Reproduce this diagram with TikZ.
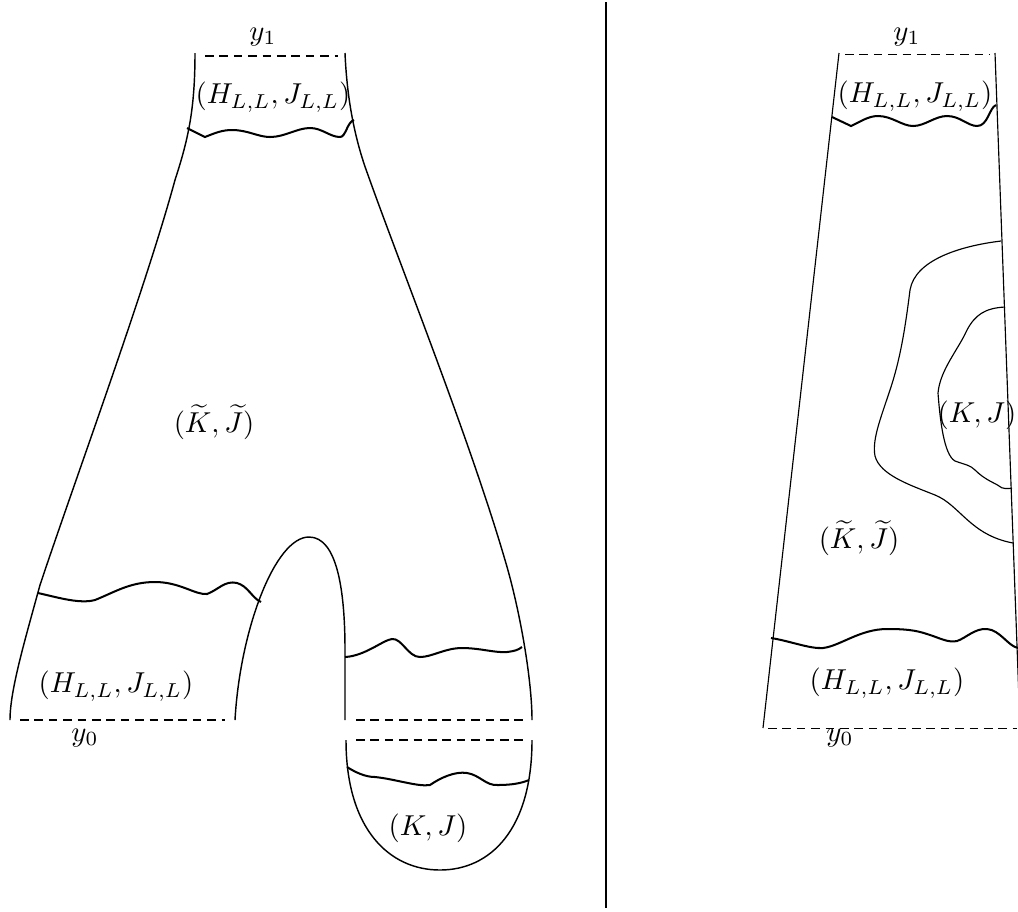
\documentclass[tikz,border=0pt]{standalone}
\usepackage{amssymb}
\usepackage{amsmath}

\begin{document}
\begin{tikzpicture}[x=0.0122cm,y=-0.0122cm,
        rim/.style={line width=0.5pt},
        wave/.style={line width=0.7pt},
        thin rim/.style={line width=0.4pt},
        cut/.style={densely dashed,line width=0.5pt},
        thincut/.style={densely dashed,line width=0.3pt}]
        \useasboundingbox (0,0) rectangle (1018,911);
        % Left picture: outer boundary
        \draw[rim] (195,53) .. controls (195,110) and (188,140) .. (175,180)
            .. controls (145,290) and (75,480) .. (40,585)
            .. controls (25,640) and (10,690) .. (10,720);
        \draw[rim] (345,53) .. controls (347,100) and (355,140) .. (368,175)
            .. controls (400,265) and (470,440) .. (505,560)
            .. controls (520,610) and (532,680) .. (532,720);
        % Inner arch
        \draw[rim] (235,720) .. controls (240,630) and (275,537) .. (309,537)
            .. controls (337,537) and (345,590) .. (345,650) -- (345,720);
        % Cap
        \draw[rim] (346,740) .. controls (346,830) and (390,870) .. (440,870)
            .. controls (490,870) and (532,830) .. (532,740);
        % Cuts
        \draw[wave] (187,128) -- (205,137) .. controls (215,133) and (222,130) .. (232,130)
            .. controls (248,130) and (258,137) .. (270,137)
            .. controls (285,137) and (297,128) .. (310,128)
            .. controls (322,128) and (330,137) .. (340,137)
            .. controls (346,137) and (347,122) .. (354,120);
        \draw[wave] (38,593) .. controls (60,598) and (80,604) .. (95,600)
            .. controls (115,592) and (130,582) .. (155,582)
            .. controls (180,582) and (195,595) .. (207,594)
            .. controls (218,590) and (225,580) .. (237,583)
            .. controls (248,586) and (252,598) .. (261,602);
        \draw[wave] (345,657) .. controls (365,656) and (383,640) .. (392,639)
            .. controls (402,638) and (408,657) .. (420,657)
            .. controls (432,657) and (445,648) .. (462,648)
            .. controls (480,648) and (495,653) .. (507,652)
            .. controls (515,651) and (518,650) .. (522,647);
        \draw[wave] (347,767) .. controls (355,772) and (365,777) .. (375,777)
            .. controls (395,779) and (418,787) .. (430,785)
            .. controls (440,778) and (455,771) .. (467,773)
            .. controls (480,775) and (486,786) .. (498,785)
            .. controls (512,785) and (522,783) .. (529,780);
        % Level lines
        \draw[cut] (205,56) -- (338,56);
        \draw[cut] (20,720) -- (225,720);
        \draw[cut] (356,720) -- (523,720);
        \draw[cut] (356,740) -- (523,740);
        % Labels
        \node (y1) at (263,37) {$y_1$};
        \node (y0) at (85,738) {$y_0$};
        \node (top) at (273,97) {$(H_{L,L},J_{L,L})$};
        \node (mid) at (214,422) {$(\widetilde{K},\widetilde{J})$};
        \node (bot) at (116,686) {$(H_{L,L},J_{L,L})$};
        \node (cap) at (428,828) {$(K,J)$};
        % Separator
        \draw[thin rim] (606,2) -- (606,908);
        % Right picture
        \draw[thin rim] (839,53) -- (763,728);
        \draw[thin rim] (995,53) -- (1019,700);
        \draw[wave] (832,117) -- (851,126) .. controls (860,122) and (868,116) .. (878,116)
            .. controls (892,116) and (902,126) .. (913,126)
            .. controls (925,126) and (935,116) .. (947,116)
            .. controls (960,116) and (968,126) .. (977,126)
            .. controls (988,126) and (989,108) .. (996,105);
        \draw[wave] (771,638) .. controls (790,641) and (810,649) .. (823,648)
            .. controls (840,646) and (860,629) .. (887,629)
            .. controls (905,629) and (915,630) .. (927,634)
            .. controls (940,638) and (948,643) .. (957,641)
            .. controls (966,638) and (975,628) .. (987,629)
            .. controls (1000,630) and (1008,646) .. (1018,648);
        \draw[thin rim] (1001,241) .. controls (960,246) and (915,260) .. (910,290)
            .. controls (905,330) and (900,360) .. (890,390)
            .. controls (880,420) and (872,440) .. (875,456)
            .. controls (880,475) and (910,485) .. (935,495)
            .. controls (960,505) and (970,535) .. (1013,543);
        \draw[thin rim] (1005,307) .. controls (985,308) and (975,315) .. (967,330)
            .. controls (958,350) and (940,370) .. (938,393)
            .. controls (940,420) and (944,455) .. (955,461)
            .. controls (966,465) and (970,465) .. (975,470)
            .. controls (985,480) and (995,483) .. (999,486)
            .. controls (1002,489) and (1008,489) .. (1012,488);
        \draw[thincut] (845,54) -- (990,54);
        \draw[thincut] (768,728) -- (1017,728);
        \node (y1r) at (907,37) {$y_1$};
        \node (y0r) at (840,738) {$y_0$};
        \node (topr) at (915,96) {$(H_{L,L},J_{L,L})$};
        \node (midr) at (977,415) {$(K,J)$};
        \node (lowr) at (859,538) {$(\widetilde{K},\widetilde{J})$};
        \node (botr) at (887,683) {$(H_{L,L},J_{L,L})$};
    \end{tikzpicture}
\end{document}
